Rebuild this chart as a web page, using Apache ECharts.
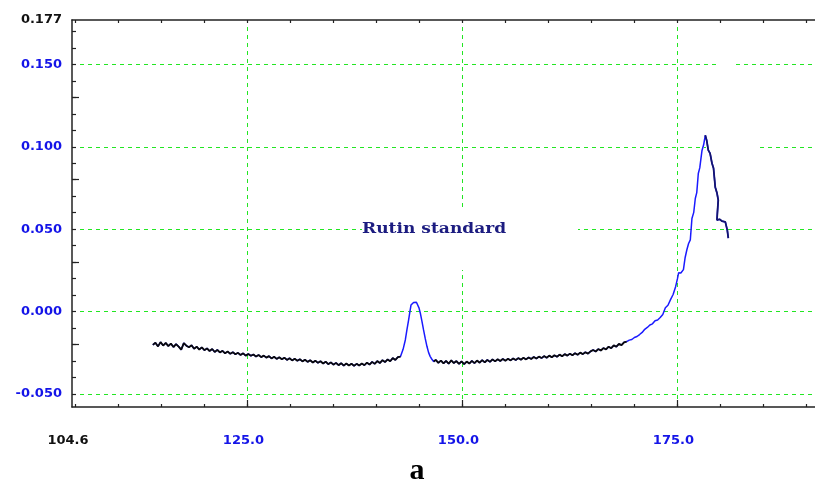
<!DOCTYPE html>
<html>
<head>
<meta charset="utf-8">
<script src="https://cdn.jsdelivr.net/npm/echarts@6/dist/echarts.min.js"></script>
<style>
  html, body { margin: 0; padding: 0; background: #ffffff; }
  #chart { width: 815px; height: 483px; }
</style>
</head>
<body>
<div id="chart"></div>
<script>
// Axis extents (retention time on x, absorbance on y)
const xMin = 104.6;
const xMax = 191.0;
const yMin = -0.058;
const yMax = 0.177;

// Tick, grid and label positions
const xMinorTicks = [105, 110, 115, 120, 125, 130, 135, 140, 145, 150, 155, 160, 165, 170, 175, 180, 185, 190];
const xMajorTicks = [125, 150, 175];
const xLabelValues = [104.6, 125, 150, 175];
const yMinorTicks = [-0.05, -0.04, -0.03, -0.02, -0.01, 0, 0.01, 0.02, 0.03, 0.04, 0.05, 0.06, 0.07, 0.08, 0.09, 0.10, 0.11, 0.12, 0.13, 0.14, 0.15, 0.16, 0.17];
const yLongTicks = [-0.02, 0.03, 0.08, 0.13];
const yGridValues = [-0.05, 0, 0.05, 0.10, 0.15];
const yLabelValues = [-0.05, 0, 0.05, 0.10, 0.15, 0.177];

// Chromatogram trace: [time, absorbance]
const trace = [
  [114.0,-0.0203],[114.3,-0.0190],[114.6,-0.0212],[114.9,-0.0186],[115.2,-0.0207],[115.5,-0.0191],[115.8,-0.0210],[116.1,-0.0195],
  [116.4,-0.0216],[116.7,-0.0198],[117.0,-0.0213],[117.3,-0.0232],[117.6,-0.0192],[117.9,-0.0208],[118.2,-0.0217],[118.5,-0.0205],
  [118.8,-0.0226],[119.1,-0.0214],[119.4,-0.0231],[119.7,-0.0218],[120.0,-0.0235],[120.3,-0.0224],[120.6,-0.0240],[120.9,-0.0228],
  [121.2,-0.0246],[121.5,-0.0233],[121.8,-0.0249],[122.1,-0.0239],[122.4,-0.0254],[122.7,-0.0243],[123.0,-0.0257],[123.3,-0.0247],
  [123.6,-0.0260],[123.9,-0.0251],[124.2,-0.0264],[124.5,-0.0254],[124.8,-0.0268],[125.1,-0.0258],[125.4,-0.0269],[125.7,-0.0261],
  [126.0,-0.0274],[126.3,-0.0264],[126.6,-0.0277],[126.9,-0.0268],[127.2,-0.0280],[127.5,-0.0271],[127.8,-0.0285],[128.1,-0.0275],
  [128.4,-0.0288],[128.7,-0.0278],[129.0,-0.0290],[129.3,-0.0281],[129.6,-0.0294],[129.9,-0.0284],[130.2,-0.0297],[130.5,-0.0287],
  [130.8,-0.0299],[131.1,-0.0290],[131.4,-0.0303],[131.7,-0.0293],[132.0,-0.0306],[132.3,-0.0296],[132.6,-0.0310],[132.9,-0.0299],
  [133.2,-0.0312],[133.5,-0.0302],[133.8,-0.0316],[134.1,-0.0305],[134.4,-0.0320],[134.7,-0.0309],[135.0,-0.0323],[135.3,-0.0312],
  [135.6,-0.0326],[135.9,-0.0314],[136.2,-0.0329],[136.5,-0.0316],[136.8,-0.0328],[137.1,-0.0317],[137.4,-0.0330],[137.7,-0.0318],
  [138.0,-0.0328],[138.3,-0.0316],[138.6,-0.0326],[138.9,-0.0311],[139.2,-0.0322],[139.5,-0.0306],[139.8,-0.0318],[140.1,-0.0301],
  [140.4,-0.0313],[140.7,-0.0296],[141.0,-0.0307],[141.3,-0.0291],[141.6,-0.0302],[141.9,-0.0283],[142.2,-0.0294],[142.5,-0.0277],
  [142.8,-0.0274],[143.1,-0.0230],[143.36,-0.0173],[143.55,-0.0110],[143.74,-0.0052],[143.88,-0.0005],[144.02,0.0039],[144.15,0.0050],
  [144.32,0.0055],[144.5,0.0048],[144.65,0.0056],[144.79,0.0050],[144.95,0.0022],[145.1,-0.0009],[145.3,-0.0062],[145.48,-0.0112],
  [145.68,-0.0165],[145.88,-0.0213],[146.07,-0.0250],[146.26,-0.0274],[146.45,-0.0290],[146.65,-0.0304],[146.9,-0.0294],[147.2,-0.0312],
  [147.5,-0.0298],[147.8,-0.0315],[148.1,-0.0300],[148.4,-0.0317],[148.7,-0.0297],[149.0,-0.0313],[149.3,-0.0301],[149.6,-0.0318],
  [149.9,-0.0303],[150.2,-0.0320],[150.5,-0.0304],[150.8,-0.0316],[151.1,-0.0300],[151.4,-0.0314],[151.7,-0.0298],[152.0,-0.0311],
  [152.3,-0.0295],[152.6,-0.0309],[152.9,-0.0294],[153.2,-0.0306],[153.5,-0.0291],[153.8,-0.0303],[154.1,-0.0290],[154.4,-0.0301],
  [154.7,-0.0288],[155.0,-0.0299],[155.3,-0.0287],[155.6,-0.0297],[155.9,-0.0285],[156.2,-0.0295],[156.5,-0.0283],[156.8,-0.0293],
  [157.1,-0.0281],[157.4,-0.0291],[157.7,-0.0279],[158.0,-0.0288],[158.3,-0.0276],[158.6,-0.0286],[158.9,-0.0274],[159.2,-0.0283],
  [159.5,-0.0271],[159.8,-0.0281],[160.1,-0.0268],[160.4,-0.0278],[160.7,-0.0266],[161.0,-0.0275],[161.3,-0.0262],[161.6,-0.0272],
  [161.9,-0.0259],[162.2,-0.0268],[162.5,-0.0256],[162.8,-0.0266],[163.1,-0.0253],[163.4,-0.0263],[163.7,-0.0250],[164.0,-0.0259],
  [164.3,-0.0247],[164.6,-0.0256],[164.9,-0.0242],[165.2,-0.0234],[165.5,-0.0243],[165.8,-0.0228],[166.1,-0.0237],[166.4,-0.0222],
  [166.7,-0.0230],[167.0,-0.0214],[167.3,-0.0223],[167.6,-0.0206],[167.9,-0.0214],[168.2,-0.0197],[168.5,-0.0204],[168.8,-0.0187],
  [169.1,-0.0183],[169.4,-0.0174],[169.7,-0.0170],[170.0,-0.0158],[170.3,-0.0152],[170.6,-0.0140],[170.9,-0.0127],[171.2,-0.0108],
  [171.5,-0.0097],[171.8,-0.0082],[172.1,-0.0075],[172.4,-0.0056],[172.7,-0.0052],[173.0,-0.0037],[173.3,-0.0018],[173.6,0.0023],
  [173.9,0.0038],[174.2,0.0072],[174.5,0.0103],[174.8,0.0152],[175.0,0.0198],[175.14,0.0235],[175.4,0.0234],[175.7,0.0254],
  [175.9,0.0328],[176.1,0.0375],[176.3,0.0413],[176.5,0.0435],[176.69,0.0565],[176.9,0.0602],[177.08,0.0686],[177.25,0.0722],
  [177.43,0.0838],[177.6,0.0872],[177.86,0.0978],[178.05,0.1012],[178.24,0.1070],[178.4,0.1040],[178.59,0.0980],[178.8,0.0960],
  [179.02,0.0900],[179.2,0.0870],[179.4,0.0755],[179.6,0.0720],[179.75,0.0676],[179.65,0.0600],[179.6,0.0555],[179.9,0.0560],
  [180.2,0.0548],[180.57,0.0544],[180.8,0.0494],[180.92,0.0445]
];

// Portions of the trace drawn in a darker ink on top of the blue line
const peakIndex = trace.reduce((best, p, i) => (p[1] > trace[best][1] ? i : best), 0);
const baselineA = trace.filter(p => p[0] <= 142.9);
const baselineB = trace.slice(0, peakIndex).filter(p => p[0] >= 146.5 && p[0] <= 169.2);
const tail = trace.slice(peakIndex);

const blueText = '#1414e8';
const darkText = '#111111';
const gridGreen = '#22e622';
const axisInk = '#222222';
const labelFont = { fontFamily: 'DejaVu Sans', fontWeight: 'bold', fontSize: 13 };

const chart = echarts.init(document.getElementById('chart'), null, { renderer: 'canvas' });

// Dashed grid lines, one per grid value
const gridLines = xMajorTicks.map(v => ({ xAxis: v })).concat(yGridValues.map(v => ({ yAxis: v })));

chart.setOption({
  animation: false,
  backgroundColor: '#ffffff',
  grid: { left: 72, top: 20, right: 0, bottom: 76, containLabel: false },
  xAxis: [
    { // bottom axis: line, minor ticks, labels
      type: 'value', position: 'bottom', min: xMin, max: xMax,
      axisLine: { show: true, onZero: false, lineStyle: { color: axisInk, width: 1.5 } },
      axisTick: { show: true, inside: true, length: 3, customValues: xMinorTicks, lineStyle: { color: axisInk, width: 1.2 } },
      axisLabel: {
        show: true, customValues: xLabelValues, margin: 27, padding: [0, 8, 0, 0],
        formatter: v => (v === xMin ? '{k|' : '{b|') + v.toFixed(1) + '}',
        rich: {
          k: Object.assign({ color: darkText }, labelFont),
          b: Object.assign({ color: blueText }, labelFont)
        }
      },
      splitLine: { show: false }
    },
    { // major ticks
      type: 'value', position: 'bottom', min: xMin, max: xMax,
      axisLine: { show: false, onZero: false },
      axisTick: { show: true, inside: true, length: 7, customValues: xMajorTicks, lineStyle: { color: axisInk, width: 1.2 } },
      axisLabel: { show: false },
      splitLine: { show: false }
    },
    { // top frame with ticks
      type: 'value', position: 'top', min: xMin, max: xMax,
      axisLine: { show: true, onZero: false, lineStyle: { color: axisInk, width: 1.5 } },
      axisTick: { show: true, inside: true, length: 3, customValues: xMinorTicks, lineStyle: { color: axisInk, width: 1.2 } },
      axisLabel: { show: false },
      splitLine: { show: false }
    }
  ],
  yAxis: [
    { // left axis: line, ticks, labels
      type: 'value', position: 'left', min: yMin, max: yMax,
      axisLine: { show: true, onZero: false, lineStyle: { color: axisInk, width: 1.5 } },
      axisTick: { show: true, inside: true, length: 4, customValues: yMinorTicks, lineStyle: { color: axisInk, width: 1.2 } },
      axisLabel: {
        show: true, customValues: yLabelValues, margin: 10,
        formatter: v => (Math.abs(v - yMax) < 1e-9 ? '{k|' : '{b|') + v.toFixed(3) + '}',
        rich: {
          k: Object.assign({ color: darkText }, labelFont),
          b: Object.assign({ color: blueText }, labelFont)
        }
      },
      splitLine: { show: false }
    },
    { // longer ticks
      type: 'value', position: 'left', min: yMin, max: yMax,
      axisLine: { show: false, onZero: false },
      axisTick: { show: true, inside: true, length: 7, customValues: yLongTicks, lineStyle: { color: axisInk, width: 1.2 } },
      axisLabel: { show: false },
      splitLine: { show: false }
    }
  ],
  series: [
    { // grid lines
      type: 'line', data: [[xMin, yMin]], showSymbol: false, z: 0, silent: true,
      lineStyle: { opacity: 0 },
      markLine: {
        z: 0, silent: true, symbol: ['none', 'none'], label: { show: false }, animation: false,
        lineStyle: { color: gridGreen, type: [4, 4], width: 1, opacity: 1 },
        emphasis: { disabled: true },
        data: gridLines
      }
    },
    {
      name: 'Rutin standard', type: 'line', data: trace, showSymbol: false, z: 3,
      lineStyle: { color: '#1a1aff', width: 1.5 }
    },
    {
      type: 'line', data: baselineA, showSymbol: false, z: 4,
      lineStyle: { color: '#0a0a0a', width: 1.8 }
    },
    {
      type: 'line', data: baselineB, showSymbol: false, z: 4,
      lineStyle: { color: '#0a0a0a', width: 1.8 }
    },
    {
      type: 'line', data: tail, showSymbol: false, z: 4,
      lineStyle: { color: '#15156e', width: 1.8 }
    }
  ],
  graphic: {
    elements: [
      { // cleared panel behind the annotation
        type: 'rect', z: 1, silent: true,
        shape: { x: 362, y: 211, width: 216, height: 59 },
        style: { fill: '#ffffff' }
      },
      { // cleared wedge beside the main peak
        type: 'polygon', z: 1, silent: true,
        shape: { points: [[721, 58], [733, 58], [757, 146], [762, 214], [704, 214], [706, 146]] },
        style: { fill: '#ffffff' }
      },
      {
        type: 'text', z: 10, x: 362, y: 229, scaleX: 1.22, originX: 0, originY: 0,
        style: { text: 'Rutin standard', fill: '#1c1c80', font: 'bold 14px "DejaVu Serif"', verticalAlign: 'middle' }
      },
      {
        type: 'text', z: 10, x: 417, y: 471,
        style: { text: 'a', fill: '#000000', font: 'bold 30px "Liberation Serif"', align: 'center', verticalAlign: 'middle' }
      }
    ]
  }
});
</script>
</body>
</html>
